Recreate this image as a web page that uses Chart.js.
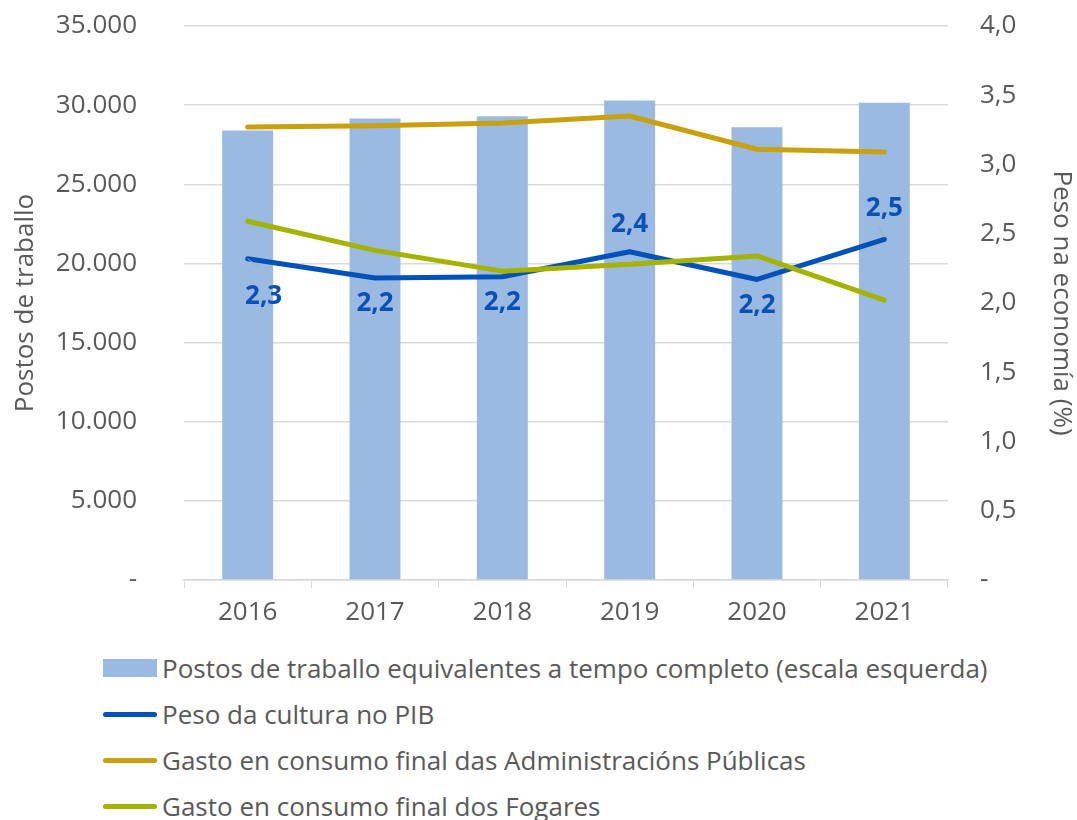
<!DOCTYPE html>
<html lang="gl">
<head>
  <meta charset="UTF-8">
  <title>Postos de traballo e peso da cultura</title>
  <style>
    body {
      margin: 0;
      background: #ffffff;
      font-family: 'Open Sans', sans-serif;
      color: #595959;
    }
    .wrap {
      position: relative;
      width: 1077px;
      height: 820px;
    }
    .chart-box {
      position: absolute;
      left: 0;
      top: 0;
      width: 1077px;
      height: 640px;
    }
    .legend {
      position: absolute;
      left: 103px;
      top: 645px;
    }
    .legend .row {
      height: 46px;
      display: flex;
      align-items: center;
      font-size: 26px;
      white-space: nowrap;
    }
    .legend .sw {
      width: 54px;
      margin-right: 5px;
      flex: none;
    }
    .legend .box { height: 18px; }
    .legend .ln { height: 5px; border-radius: 3px; }
  </style>
</head>
<body>
  <div class="wrap">
    <div class="chart-box"><canvas id="chart"></canvas></div>
    <div class="legend" id="legend"></div>
  </div>

  <script src="https://cdn.jsdelivr.net/npm/chart.js"></script>
  <script>
    const years = ['2016', '2017', '2018', '2019', '2020', '2021'];
    const postos = [28400, 29150, 29300, 30300, 28600, 30150];
    const pesoCultura = [2.32, 2.18, 2.19, 2.37, 2.17, 2.46];
    const gastoAdmin = [3.27, 3.28, 3.30, 3.35, 3.11, 3.09];
    const gastoFogares = [2.59, 2.38, 2.23, 2.28, 2.34, 2.02];
    const pesoLabels = ['2,3', '2,2', '2,2', '2,4', '2,2', '2,5'];

    const names = [
      'Postos de traballo equivalentes a tempo completo (escala esquerda)',
      'Peso da cultura no PIB',
      'Gasto en consumo final das Administracións Públicas',
      'Gasto en consumo final dos Fogares'
    ];
    const colors = ['#9bbae2', '#0052b8', '#c9a00e', '#a3b300'];

    const gray = '#595959';
    const gridGray = '#d9d9d9';
    const font = { family: "'Open Sans', sans-serif", size: 26 };

    function thousands(v) {
      if (v === 0) return '-';
      return String(v).replace(/\B(?=(\d{3})+(?!\d))/g, '.');
    }

    // data labels for the blue line, with little leader lines where excel put them
    const labelPlugin = {
      id: 'pesoLabels',
      afterDatasetsDraw(chart) {
        const meta = chart.getDatasetMeta(0);
        const ctx = chart.ctx;
        const place = [
          { dx: 16, dy: 38, lead: true },
          { dx: 0, dy: 26 },
          { dx: 0, dy: 26 },
          { dx: 0, dy: -27 },
          { dx: 0, dy: 26 },
          { dx: 0, dy: -31, lead: true }
        ];
        ctx.save();
        meta.data.forEach((pt, i) => {
          const p = place[i];
          if (p.lead) {
            ctx.strokeStyle = '#a6a6a6';
            ctx.lineWidth = 1;
            ctx.beginPath();
            if (p.dy > 0) {
              ctx.moveTo(pt.x, pt.y);
              ctx.lineTo(pt.x + 11, pt.y + 8);
            } else {
              ctx.moveTo(pt.x, pt.y - 2);
              ctx.lineTo(pt.x - 5, pt.y - 12);
            }
            ctx.stroke();
          }
          ctx.fillStyle = '#0a50b5';
          ctx.font = "bold 26px 'Open Sans', sans-serif";
          ctx.textAlign = 'center';
          ctx.textBaseline = 'middle';
          ctx.fillText(pesoLabels[i], pt.x + p.dx, pt.y + p.dy);
        });
        ctx.restore();
      }
    };

    const lineStyle = (i) => ({
      borderColor: colors[i],
      backgroundColor: colors[i],
      borderWidth: 5,
      pointRadius: 0,
      borderCapStyle: 'round',
      borderJoinStyle: 'round',
      tension: 0,
      yAxisID: 'y1',
      type: 'line'
    });

    new Chart(document.getElementById('chart'), {
      type: 'bar',
      data: {
        labels: years,
        datasets: [
          Object.assign({ label: names[1], data: pesoCultura, order: 3 }, lineStyle(1)),
          Object.assign({ label: names[2], data: gastoAdmin, order: 2 }, lineStyle(2)),
          Object.assign({ label: names[3], data: gastoFogares, order: 1 }, lineStyle(3)),
          {
            label: names[0],
            data: postos,
            backgroundColor: colors[0],
            barPercentage: 0.4,
            categoryPercentage: 1,
            yAxisID: 'y',
            order: 10
          }
        ]
      },
      options: {
        responsive: true,
        maintainAspectRatio: false,
        animation: false,
        layout: { autoPadding: false, padding: { top: 26, left: 0, right: 0, bottom: 0 } },
        plugins: {
          legend: { display: false },
          tooltip: { enabled: false }
        },
        scales: {
          x: {
            offset: true,
            grid: {
              offset: true,
              drawOnChartArea: false,
              drawTicks: true,
              tickLength: 8,
              color: gridGray
            },
            border: { display: true, color: gridGray, width: 1.5 },
            ticks: { color: gray, font: font, padding: 9 },
            afterFit(s) { s.height = 60; }
          },
          y: {
            position: 'left',
            min: 0,
            max: 35000,
            ticks: {
              stepSize: 5000,
              color: gray,
              font: font,
              padding: 0,
              callback: (v) => thousands(v)
            },
            // invisible tick marks give the gap between labels and plot
            grid: { color: gridGray, lineWidth: 1.5, drawTicks: true, tickLength: 47, tickColor: 'rgba(0,0,0,0)' },
            border: { display: false },
            title: {
              display: true,
              text: 'Postos de traballo',
              color: gray,
              font: font,
              padding: { top: 10, bottom: 0 }
            },
            afterFit(s) { s.width = 184; }
          },
          y1: {
            position: 'right',
            min: 0,
            max: 4,
            ticks: {
              stepSize: 0.5,
              color: gray,
              font: font,
              padding: 0,
              callback: (v) => v === 0 ? '-' : v.toFixed(1).replace('.', ',')
            },
            grid: { display: true, drawOnChartArea: false, drawTicks: true, tickLength: 32, tickColor: 'rgba(0,0,0,0)' },
            border: { display: false },
            title: {
              display: true,
              text: 'Peso na economía (%)',
              color: gray,
              font: font,
              padding: { top: 0, bottom: 0 }
            },
            afterFit(s) { s.width = 129; }
          }
        }
      },
      plugins: [labelPlugin]
    });

    // legend: one entry per line, left aligned like the original
    const legend = document.getElementById('legend');
    names.forEach((n, i) => {
      const row = document.createElement('div');
      row.className = 'row';
      const sw = document.createElement('span');
      sw.className = 'sw ' + (i === 0 ? 'box' : 'ln');
      sw.style.background = colors[i];
      row.appendChild(sw);
      row.appendChild(document.createTextNode(n));
      legend.appendChild(row);
    });
  </script>
</body>
</html>
